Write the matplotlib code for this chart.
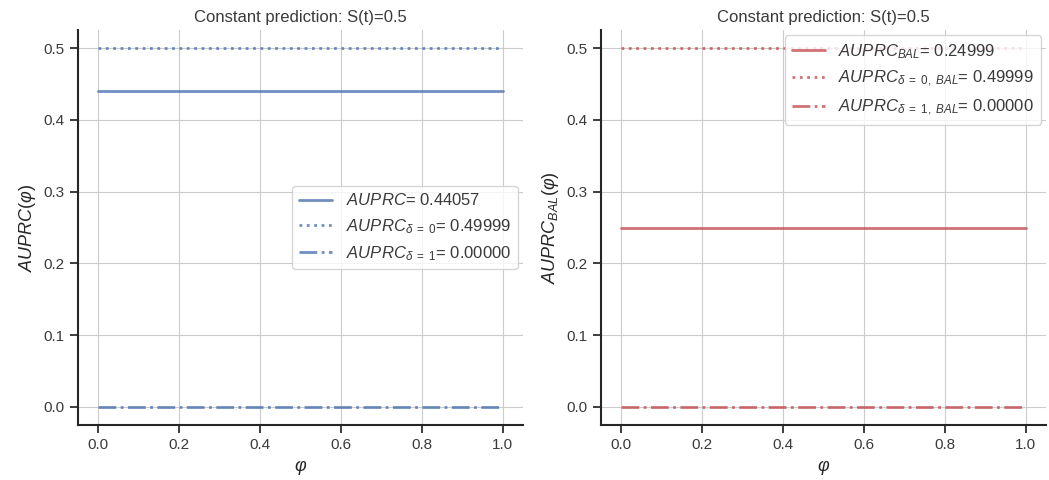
import numpy as np
import matplotlib
matplotlib.use("Agg")
import matplotlib.pyplot as plt
import seaborn as sns

sns.set_style("ticks", {"axes.grid": True})
plt.rcParams['font.family'] = ['Liberation Sans', 'DejaVu Sans']
plt.rcParams['font.size'] = 11
plt.rcParams['mathtext.fontset'] = 'custom'
plt.rcParams['mathtext.it'] = 'Liberation Sans:italic'
plt.rcParams['mathtext.rm'] = 'Liberation Sans'
plt.rcParams['text.color'] = '#3a3a3a'
plt.rcParams['xtick.labelcolor'] = '#3a3a3a'
plt.rcParams['ytick.labelcolor'] = '#3a3a3a'

# constant prediction S(t)=0.5, curves over phi
phi = [0.0, 1.0]
auprc = [0.44057, 0.44057]
auprc_d0 = [0.49999, 0.49999]
auprc_d1 = [0.00000, 0.00000]
auprc_bal = [0.24999, 0.24999]
auprc_d0_bal = [0.49999, 0.49999]
auprc_d1_bal = [0.00000, 0.00000]

blue = "#4c72b0"
red = "#c44e52"

fig, (ax1, ax2) = plt.subplots(1, 2, figsize=(10.49, 4.8), dpi=100)
fig.subplots_adjust(left=0.074, right=0.997, top=0.937, bottom=0.115, wspace=0.175)

ax1.plot(phi, auprc, color=blue, lw=2, alpha=0.8,
         label=r"$AUPRC$= %.5f" % auprc[0])
ax1.plot(phi, auprc_d0, color=blue, lw=2, ls=":", alpha=0.8,
         label=r"$AUPRC_{\delta\ =\ 0}$= %.5f" % auprc_d0[0])
ax1.plot(phi, auprc_d1, color=blue, lw=2, ls="-.", alpha=0.8,
         label=r"$AUPRC_{\delta\ =\ 1}$= %.5f" % auprc_d1[0])
ax1.set_title("Constant prediction: S(t)=0.5", fontsize=12)
ax1.set_xlabel(r"$\varphi$", fontsize=13)
ax1.set_ylabel(r"$AUPRC(\varphi)$", fontsize=13)
ax1.legend(loc="center right", fontsize=12, borderaxespad=0.3)

ax2.plot(phi, auprc_bal, color=red, lw=2, alpha=0.8,
         label=r"$AUPRC_{BAL}$= %.5f" % auprc_bal[0])
ax2.plot(phi, auprc_d0_bal, color=red, lw=2, ls=":", alpha=0.8,
         label=r"$AUPRC_{\delta\ =\ 0,\ BAL}$= %.5f" % auprc_d0_bal[0])
ax2.plot(phi, auprc_d1_bal, color=red, lw=2, ls="-.", alpha=0.8,
         label=r"$AUPRC_{\delta\ =\ 1,\ BAL}$= %.5f" % auprc_d1_bal[0])
ax2.set_title("Constant prediction: S(t)=0.5", fontsize=12)
ax2.set_xlabel(r"$\varphi$", fontsize=13)
ax2.set_ylabel(r"$AUPRC_{BAL}(\varphi)$", fontsize=13)
ax2.legend(loc="upper right", fontsize=12, borderaxespad=0.3)

for ax in (ax1, ax2):
    ax.set_yticks([0.0, 0.1, 0.2, 0.3, 0.4, 0.5])
    ax.set_xticks([0.0, 0.2, 0.4, 0.6, 0.8, 1.0])
    ax.tick_params(axis="both", length=6, width=1.25, color="#262626",
                   labelsize=11, direction="out", bottom=True, left=True)
    for side in ("left", "bottom"):
        ax.spines[side].set_color("#262626")
        ax.spines[side].set_linewidth(1.5)

sns.despine()
plt.savefig("out.png")
